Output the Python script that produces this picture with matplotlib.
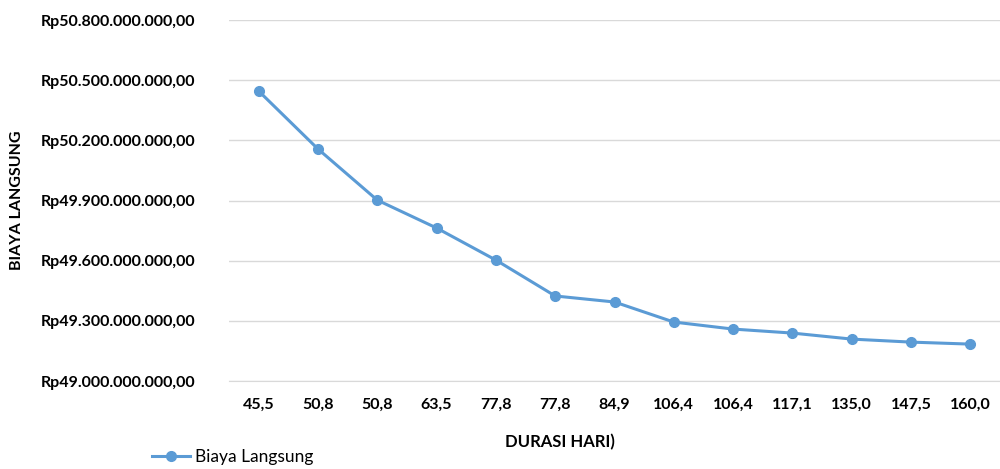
import matplotlib
matplotlib.use("Agg")
import matplotlib.pyplot as plt
from matplotlib.ticker import FuncFormatter
from matplotlib.lines import Line2D

# data
durasi = ["45,5", "50,8", "50,8", "63,5", "77,8", "77,8", "84,9",
          "106,4", "106,4", "117,1", "135,0", "147,5", "160,0"]
biaya = [50.446e9, 50.157e9, 49.902e9, 49.763e9, 49.603e9, 49.424e9, 49.394e9,
         49.294e9, 49.259e9, 49.239e9, 49.209e9, 49.194e9, 49.184e9]
yticks = [49.0e9, 49.3e9, 49.6e9, 49.9e9, 50.2e9, 50.5e9, 50.8e9]

plt.rcParams['font.family'] = ['Lato', 'DejaVu Sans']

def rupiah(v, pos=None):
    s = f"{v:,.2f}"
    s = s.replace(",", "X").replace(".", ",").replace("X", ".")
    return "Rp" + s

fig = plt.figure(figsize=(10, 4.69), dpi=100)
ax = fig.add_axes([0.229, 0.1876, 0.771, 0.7697])

x = range(len(durasi))
ax.plot(x, biaya, color="#5B9BD5", lw=2.2, marker="o", ms=7, label="Biaya Langsung")

ax.set_xlim(-0.5, len(durasi) - 0.5)
ax.set_ylim(49.0e9, 50.8e9)
ax.set_yticks(yticks)
ax.yaxis.set_major_formatter(FuncFormatter(rupiah))
ax.set_xticks(list(x))
ax.set_xticklabels(durasi)
ax.grid(axis="y", color="#D9D9D9", lw=1)
ax.set_axisbelow(True)
for sp in ax.spines.values():
    sp.set_visible(False)
ax.spines["bottom"].set_visible(True)
ax.spines["bottom"].set_color("#D9D9D9")
ax.tick_params(length=0, labelsize=11.5, colors="black")
ax.tick_params(axis="y", pad=24)
ax.tick_params(axis="x", pad=12)
for lab in ax.get_xticklabels() + ax.get_yticklabels():
    lab.set_fontweight("bold")

fig.text(0.560, 0.058, "DURASI HARI)", ha="center", va="center",
         fontsize=12, fontweight="bold")
fig.text(0.017, 0.573, "BIAYA LANGSUNG", ha="center", va="center",
         rotation=90, fontsize=11.5, fontweight="bold")

h = Line2D([], [], color="#5B9BD5", lw=2.2, marker="o", ms=7)
fig.legend([h], ["Biaya Langsung"], loc="center left", bbox_to_anchor=(0.140, 0.026),
           frameon=False, fontsize=12.5, handlelength=2.2, handletextpad=0.25,
           borderpad=0.2)

fig.savefig("out.png", dpi=100)
